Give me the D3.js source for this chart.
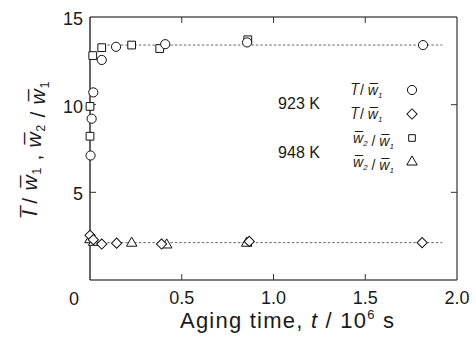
<!DOCTYPE html>
<html><head><meta charset="utf-8">
<script src="https://cdnjs.cloudflare.com/ajax/libs/d3/7.8.5/d3.min.js"></script>
<style>
html,body{margin:0;padding:0;background:#fff;}
svg{display:block;font-family:"Liberation Sans",Arial,sans-serif;}
</style></head><body>
<svg id="c" width="476" height="340"></svg>
<script>
// Data
const circ923T = [0.003, 0.009, 0.018, 0.064, 0.142, 0.41, 0.856, 1.815];
const circ923V = [7.1, 9.2, 10.7, 12.55, 13.3, 13.45, 13.55, 13.4];
const sq948T = [0.0, 0.0, 0.015, 0.064, 0.227, 0.38, 0.86];
const sq948V = [8.2, 9.9, 12.8, 13.25, 13.4, 13.2, 13.7];
const dia923T = [0.0, 0.018, 0.064, 0.145, 0.39, 0.868, 1.81];
const dia923V = [2.55, 2.3, 2.05, 2.1, 2.05, 2.2, 2.13];
const tri948T = [0.0, 0.02, 0.227, 0.418, 0.854];
const tri948V = [2.3, 2.15, 2.1, 2.0, 2.1];
const refLevels = [13.4, 2.13];
const refRange = [0.07, 1.92];
const xTicks = [0.5, 1.0, 1.5, 2.0];
const xTickLabels = ["0.5", "1.0", "1.5", "2.0"];
const yTicks = [5, 10, 15];
const yTickLabels = ["5", "10", "15"];

const svg = d3.select("#c");
const L = 90, R = 457, T = 17, B = 280;
const x = d3.scaleLinear().domain([0, 2]).range([L, R]);
const y = d3.scaleLinear().domain([0, 15]).range([B, T]);
const ink = "#1a1a1a";

// reference dotted lines
svg.selectAll("line.ref").data(refLevels).join("line")
  .attr("x1", x(refRange[0])).attr("x2", x(refRange[1]))
  .attr("y1", d => y(d)).attr("y2", d => y(d))
  .attr("stroke", "#666").attr("stroke-width", 1).attr("stroke-dasharray", "2.5,2");

// frame
svg.append("line").attr("x1", L).attr("x2", R).attr("y1", T).attr("y2", T).attr("stroke", "#555").attr("stroke-width", 1.4);
svg.append("line").attr("x1", L).attr("x2", R).attr("y1", B).attr("y2", B).attr("stroke", "#555").attr("stroke-width", 1.4);
svg.append("line").attr("x1", R).attr("x2", R).attr("y1", T).attr("y2", B).attr("stroke", "#333").attr("stroke-width", 1.2);
svg.append("line").attr("x1", L).attr("x2", L).attr("y1", T).attr("y2", B).attr("stroke", "#000").attr("stroke-width", 1.2);

// ticks
const tl = 6;
const xt = [0.5, 1.0, 1.5];
svg.selectAll("line.xtb").data(xt).join("line").attr("x1", d => x(d)).attr("x2", d => x(d)).attr("y1", B).attr("y2", B - tl).attr("stroke", "#333");
svg.selectAll("line.xtt").data(xt).join("line").attr("x1", d => x(d)).attr("x2", d => x(d)).attr("y1", T).attr("y2", T + tl).attr("stroke", "#333");
const yt = [5, 10];
svg.selectAll("line.ytl").data(yt).join("line").attr("x1", L).attr("x2", L + tl).attr("y1", d => y(d)).attr("y2", d => y(d)).attr("stroke", "#333");
svg.selectAll("line.ytr").data(yt).join("line").attr("x1", R).attr("x2", R - tl).attr("y1", d => y(d)).attr("y2", d => y(d)).attr("stroke", "#333");

// tick labels
svg.selectAll("text.xl").data(xTicks).join("text")
  .attr("x", d => x(d)).attr("y", 304).attr("text-anchor", "middle")
  .attr("font-size", 18).attr("fill", ink).text((d, i) => xTickLabels[i]);
svg.selectAll("text.yl").data(yTicks).join("text")
  .attr("x", 83).attr("y", d => y(d) + 8).attr("text-anchor", "end")
  .attr("font-size", 18).attr("fill", ink).text((d, i) => yTickLabels[i]);
svg.append("text").attr("x", 74).attr("y", 305).attr("text-anchor", "middle").attr("font-size", 18).attr("fill", ink).text("0");

// x title
const xt2 = svg.append("text").attr("x", 287).attr("y", 328).attr("text-anchor", "middle").attr("font-size", 22).attr("fill", ink)
  .attr("textLength", 214).attr("lengthAdjust", "spacing");
xt2.append("tspan").text("Aging time, ");
xt2.append("tspan").attr("font-style", "italic").text("t");
xt2.append("tspan").text(" / 10");
xt2.append("tspan").attr("font-size", 13).attr("dy", -9).text("6");
xt2.append("tspan").attr("dy", 9).text(" s");

// y title
const yg = svg.append("text").attr("transform", `translate(37,${(T + B) / 2}) rotate(-90)`)
  .attr("text-anchor", "middle").attr("font-size", 21).attr("fill", ink)
  .attr("textLength", 134).attr("lengthAdjust", "spacing");
function barred(t, ch, sub, italic) {
  t.append("tspan").attr("font-style", italic ? "italic" : null).text(ch + "\u0305");
  if (sub) {
    t.append("tspan").attr("font-size", "0.6em").attr("dy", 4).text(sub);
    t.append("tspan").attr("dy", -4).text("");
  }
}
barred(yg, "l", null, true);
yg.append("tspan").text(" / ");
barred(yg, "w", "1", true);
yg.append("tspan").text(" , ");
barred(yg, "w", "2", true);
yg.append("tspan").text(" / ");
barred(yg, "w", "1", true);

// markers
const sqSym = d3.symbol().type(d3.symbolSquare).size(60);
const ciSym = d3.symbol().type(d3.symbolCircle).size(66);
const diSym = d3.symbol().type(d3.symbolSquare).size(52);
const trSym = d3.symbol().type(d3.symbolTriangle).size(48);
function drawSeries(ts, vs, gen, rot) {
  svg.append("g").selectAll("path").data(ts.map((t, i) => [t, vs[i]])).join("path")
    .attr("d", gen())
    .attr("transform", d => `translate(${x(d[0])},${y(d[1])})` + (rot ? ` rotate(${rot})` : ""))
    .attr("fill", "#fff").attr("stroke", "#111").attr("stroke-width", 1);
}
drawSeries(sq948T, sq948V, sqSym, 0);
drawSeries(circ923T, circ923V, ciSym, 0);
drawSeries(tri948T, tri948V, trSym, 0);
drawSeries(dia923T, dia923V, diSym, 45);

// legend
const legRows = [90, 114, 138, 162];
function legText(yy, a, aSub, b, bSub) {
  const t = svg.append("text").attr("x", 353).attr("y", yy + 5).attr("font-size", 14).attr("fill", ink).attr("font-style", "italic");
  t.append("tspan").text(a + "\u0305");
  if (aSub) { t.append("tspan").attr("font-size", 8).attr("dy", 3).text(aSub); t.append("tspan").attr("dy", -3).text(""); }
  t.append("tspan").attr("font-style", "normal").text(" / ");
  t.append("tspan").text(b + "\u0305");
  if (bSub) { t.append("tspan").attr("font-size", 8).attr("dy", 3).text(bSub); }
}
legText(legRows[0], "l", null, "w", "1");
legText(legRows[1], "l", null, "w", "1");
legText(legRows[2], "w", "2", "w", "1");
legText(legRows[3], "w", "2", "w", "1");
const lx = 412;
const legSyms = [[ciSym, 0], [diSym, 45], [d3.symbol().type(d3.symbolSquare).size(44), 0], [trSym, 0]];
legSyms.forEach((s, i) => {
  svg.append("path").attr("d", s[0]()).attr("transform", `translate(${lx},${legRows[i]})` + (s[1] ? ` rotate(${s[1]})` : ""))
    .attr("fill", "#fff").attr("stroke", "#111").attr("stroke-width", 1);
});
svg.append("text").attr("x", 299).attr("y", 109).attr("text-anchor", "middle").attr("font-size", 16).attr("fill", ink).text("923 K");
svg.append("text").attr("x", 299).attr("y", 158).attr("text-anchor", "middle").attr("font-size", 16).attr("fill", ink).text("948 K");
</script>
</body></html>
